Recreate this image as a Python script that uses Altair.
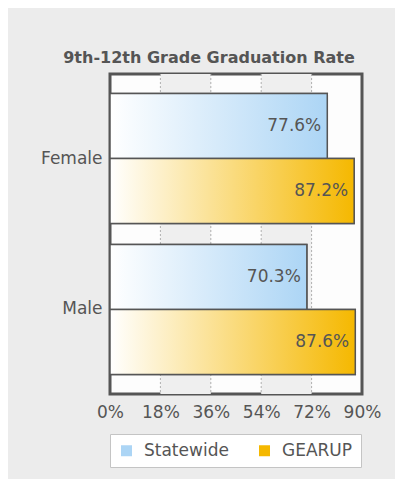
import altair as alt
import pandas as pd

genders = ["Female", "Female", "Male", "Male"]
series = ["Statewide", "GEARUP", "Statewide", "GEARUP"]
values = [77.6, 87.2, 70.3, 87.6]
labels = ["77.6%", "87.2%", "70.3%", "87.6%"]

tick_values = [0, 18, 36, 54, 72, 90]
grid_values = [18, 36, 54, 72]
band_starts = [18, 54]
band_ends = [36, 72]

series_order = ["Statewide", "GEARUP"]
series_colors = ["#acd5f5", "#f5b800"]

df = pd.DataFrame({"gender": genders, "series": series, "value": values, "label": labels})
bands = pd.DataFrame({"start": band_starts, "end": band_ends})
grid = pd.DataFrame({"x": grid_values})

FONT = "DejaVu Sans"
TXT = "#555555"
FS = 17
W, H = 252, 320

xscale = alt.Scale(domain=[0, 90], nice=False, zero=True)
yscale = alt.Scale(domain=["Female", "Male"], paddingInner=0.14, paddingOuter=0.13)
yoff_scale = alt.Scale(domain=series_order, paddingInner=0, paddingOuter=0)

xaxis = alt.Axis(values=tick_values, labelExpr="datum.value + '%'", title=None,
                 ticks=False, domain=False, grid=False, labelPadding=10,
                 labelOverlap=False, labelFlush=False,
                 labelFontSize=FS, labelFont=FONT, labelColor=TXT)
yaxis = alt.Axis(title=None, ticks=False, domain=False, grid=False, labelPadding=8,
                 labelFontSize=FS, labelFont=FONT, labelColor=TXT)

band_layer = alt.Chart(bands).mark_rect(color="#efefef").encode(
    x=alt.X("start:Q", scale=xscale, axis=xaxis),
    x2="end:Q",
)

grid_layer = alt.Chart(grid).mark_rule(color="#b0b0b0", strokeDash=[2, 2], strokeWidth=1).encode(
    x=alt.X("x:Q", scale=xscale),
)

base = alt.Chart(df)

enc_common = dict(
    x=alt.X("value:Q", scale=xscale, axis=xaxis),
    y=alt.Y("gender:N", scale=yscale, axis=yaxis, sort=["Female", "Male"]),
    yOffset=alt.YOffset("series:N", scale=yoff_scale, sort=series_order),
)

solid = base.mark_bar(stroke="#555555", strokeWidth=1.5).encode(
    color=alt.Color("series:N", sort=series_order,
                    scale=alt.Scale(domain=series_order, range=series_colors),
                    legend=alt.Legend(title=None, orient="none", legendX=0, legendY=360,
                                      direction="horizontal", symbolType="square",
                                      symbolSize=121, symbolStrokeWidth=0,
                                      labelFontSize=FS, labelFont=FONT, labelColor=TXT,
                                      labelOffset=9, columnPadding=27, padding=8,
                                      fillColor="white", strokeColor="#c4c4c4")),
    **enc_common,
)

def grad(c):
    return alt.Gradient(gradient="linear",
                        stops=[alt.GradientStop(color="#ffffff", offset=0),
                               alt.GradientStop(color=c, offset=1)],
                        x1=0, x2=1, y1=0, y2=0)

grad_state = base.transform_filter(alt.datum.series == "Statewide").mark_bar(
    fill=grad(series_colors[0]), stroke="#555555", strokeWidth=1.5).encode(**enc_common)
grad_gear = base.transform_filter(alt.datum.series == "GEARUP").mark_bar(
    fill=grad(series_colors[1]), stroke="#555555", strokeWidth=1.5).encode(**enc_common)

text = base.mark_text(align="right", baseline="middle", dx=-6, fontSize=FS,
                      font=FONT, color=TXT).encode(text="label:N", **enc_common)

chart = alt.layer(band_layer, grid_layer, solid, grad_state, grad_gear, text).properties(
    width=W, height=H,
    title=alt.TitleParams("9th-12th Grade Graduation Rate", fontSize=16, font=FONT,
                          fontWeight="bold", color=TXT, anchor="middle", offset=8, dx=-27),
    autosize=alt.AutoSizeParams(type="none"),
    padding={"left": 102, "top": 66, "right": 33, "bottom": 85},
    background="#ececec",
).configure_view(fill="#fdfdfd", stroke="#555555", strokeWidth=3)

chart.save("out.html", embed_options={"renderer": "svg", "actions": False})
